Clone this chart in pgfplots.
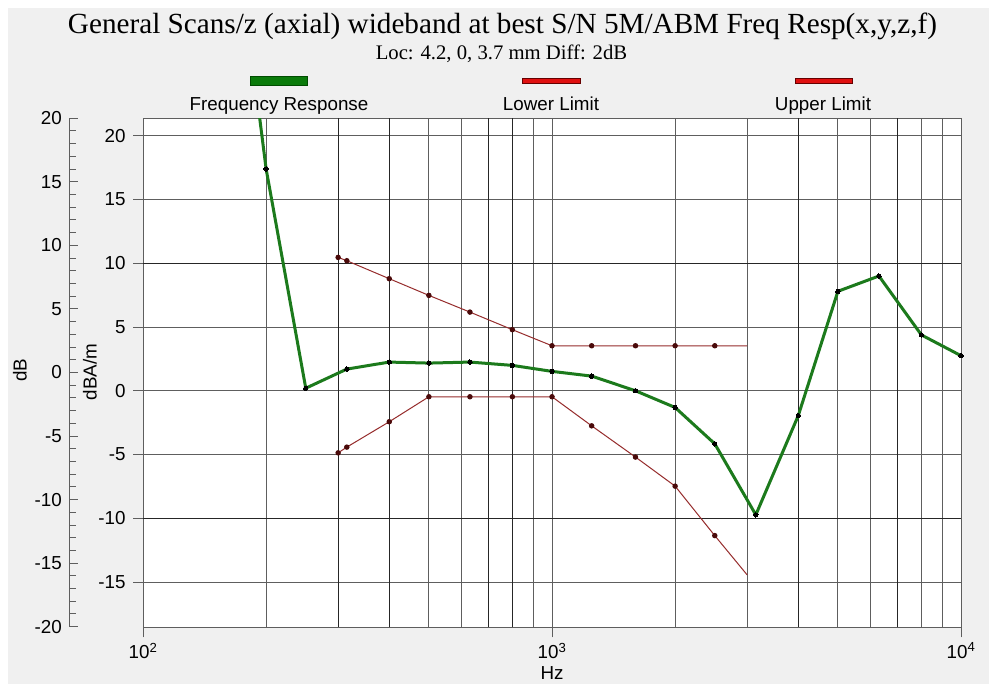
\documentclass[border=0pt]{standalone}
\usepackage{pgfplots}
\pgfplotsset{compat=1.18}
\usepackage{fontspec}
\setmainfont{Liberation Sans}
\newfontfamily\titlefont{Liberation Serif}
\definecolor{panel}{HTML}{F0F0F0}
\definecolor{frgreen}{HTML}{1C7A1C}
\definecolor{limred}{HTML}{962C2C}
\definecolor{gridc}{HTML}{5E5E5E}
\definecolor{markred}{HTML}{4A0A0A}
\definecolor{legred}{HTML}{E01010}
\definecolor{leggreen}{HTML}{0A7A0A}
\begin{document}
\begin{tikzpicture}[x=1pt,y=1pt]
\fill[white] (0,0) rectangle (989,684);
\fill[panel] (8,0) rectangle (989,676);
% titles
\node[anchor=base,inner sep=0pt] at (502.5,650.7) {\titlefont\fontsize{29.2}{31}\selectfont General Scans/z (axial) wideband at best S/N 5M/ABM Freq Resp(x,y,z,f)};
\node[anchor=base,inner sep=0pt] at (501.5,624.7) {\titlefont\fontsize{20.7}{23}\selectfont Loc: 4.2, 0, 3.7 mm Diff: 2dB};
% legend
\filldraw[fill=leggreen,draw=black!70!green,line width=0.8pt] (250.7,598.7) rectangle (307.7,607.3);
\filldraw[fill=legred,draw=black!60!red,line width=0.8pt] (522.7,600.7) rectangle (580,605.7);
\filldraw[fill=legred,draw=black!60!red,line width=0.8pt] (795.3,600.7) rectangle (852,605.7);
\node[anchor=base,inner sep=0pt] at (279,573.3) {\fontsize{18.8}{21}\selectfont Frequency Response};
\node[anchor=base,inner sep=0pt] at (551,573.3) {\fontsize{18.8}{21}\selectfont Lower Limit};
\node[anchor=base,inner sep=0pt] at (823,573.3) {\fontsize{18.8}{21}\selectfont Upper Limit};
% axis labels
\node[rotate=90,inner sep=0pt] at (20,314) {\fontsize{18.8}{21}\selectfont dB};
\node[rotate=90,inner sep=0pt] at (90,312) {\fontsize{18.8}{21}\selectfont dBA/m};
\node[anchor=base,inner sep=0pt] at (552,4.5) {\fontsize{18.8}{21}\selectfont Hz};

% outer dB axis
\begin{axis}[
  at={(69.3pt,57.3pt)}, anchor=south west,
  scale only axis, width=20pt, height=508.4pt,
  xmin=0, xmax=1, ymin=-20, ymax=20,
  hide x axis,
  axis y line=left,
  axis line style={-, gridc, line width=1pt},
  ytick={-20,-15,...,20},
  minor y tick num=4,
  tick align=inside,
  major tick length=9pt, minor tick length=7pt,
  tick style={gridc, line width=1pt},
  /pgf/number format/assume math mode=true,
  yticklabel style={font=\fontsize{18.8}{21}\selectfont, xshift=-4pt},
]
\end{axis}

% main axis
\begin{axis}[
  at={(143pt,56.7pt)}, anchor=south west,
  scale only axis, width=818pt, height=509pt,
  xmode=log, xmin=100, xmax=10000,
  ymin=-18.55, ymax=21.37,
  axis background/.style={fill=white},
  xtick={100,1000,10000},
  xticklabels={10\textsuperscript{2},10\textsuperscript{3},10\textsuperscript{4}},
  minor xtick={200,300,400,500,600,700,800,900,2000,3000,4000,5000,6000,7000,8000,9000},
  ytick={-15,-10,...,20},
  xmajorgrids, xminorgrids, ymajorgrids,
  grid style={gridc, line width=1pt},
  minor grid style={gridc, line width=1pt},
  axis line style={gridc, line width=1pt},
  tick style={gridc, line width=1pt},
  tick align=outside, major tick length=10pt, minor tick length=0pt,
  xtick pos=bottom, ytick pos=left,
  extra x ticks={300,400,700,800,4000,7000},
  extra x tick labels={{},{},{},{},{},{}},
  extra x tick style={grid=major, major grid style={black!85, line width=1pt}, major tick length=0pt},
  extra y ticks={-10,10},
  extra y tick labels={{},{}},
  extra y tick style={grid=major, major grid style={black!85, line width=1pt}, major tick length=0pt},
  /pgf/number format/assume math mode=true,
  yticklabel style={font=\fontsize{18.8}{21}\selectfont, xshift=-4pt},
  xticklabel style={font=\fontsize{18.8}{21}\selectfont, yshift=-2pt},
  clip=true,
]
% upper limit
\addplot[limred, line width=1pt, mark=*, mark size=2.2pt, mark options={fill=markred, draw=markred}, mark indices={1,2,3,4,5,6,7,8,9,10,11}] coordinates {
(300,10.46) (315,10.2) (400,8.79) (500,7.48) (630,6.17) (800,4.79) (1000,3.53) (1250,3.53) (1600,3.53) (2000,3.53) (2500,3.53) (3000,3.53)};
% lower limit
\addplot[limred, line width=1pt, mark=*, mark size=2.2pt, mark options={fill=markred, draw=markred}, mark indices={1,2,3,4,5,6,7,8,9,10,11}] coordinates {
(300,-4.87) (315,-4.42) (400,-2.43) (500,-0.47) (630,-0.47) (800,-0.47) (1000,-0.47) (1250,-2.75) (1600,-5.2) (2000,-7.48) (2500,-11.36) (3000,-14.44)};
% frequency response
\addplot[frgreen, line width=3pt, line join=round, mark=*, mark size=2.2pt, mark options={fill=black, draw=black, line width=0pt}] coordinates {
(160,42) (200,17.4) (250,0.2) (315,1.7) (400,2.25) (500,2.17) (630,2.25) (800,1.99) (1000,1.52) (1250,1.15) (1600,0.0) (2000,-1.31) (2500,-4.16) (3150,-9.73) (4000,-1.95) (5000,7.8) (6300,9.0) (8000,4.38) (10000,2.75)};
\end{axis}

% inner minor ticks (inside)
\begin{axis}[
  at={(143pt,56.7pt)}, anchor=south west,
  scale only axis, width=818pt, height=509pt,
  xmin=0, xmax=1, ymin=-18.55, ymax=21.37,
  axis line style={draw=none},
  xtick=\empty, ytick=\empty,
  minor ytick={-18,-17,-16,-14,-13,-12,-11,-9,-8,-7,-6,-4,-3,-2,-1,1,2,3,4,6,7,8,9,11,12,13,14,16,17,18,19,21},
  ytick pos=left,
  tick align=inside, minor tick length=8pt,
  tick style={gridc, line width=1pt},
]
\end{axis}
\end{tikzpicture}
\end{document}
